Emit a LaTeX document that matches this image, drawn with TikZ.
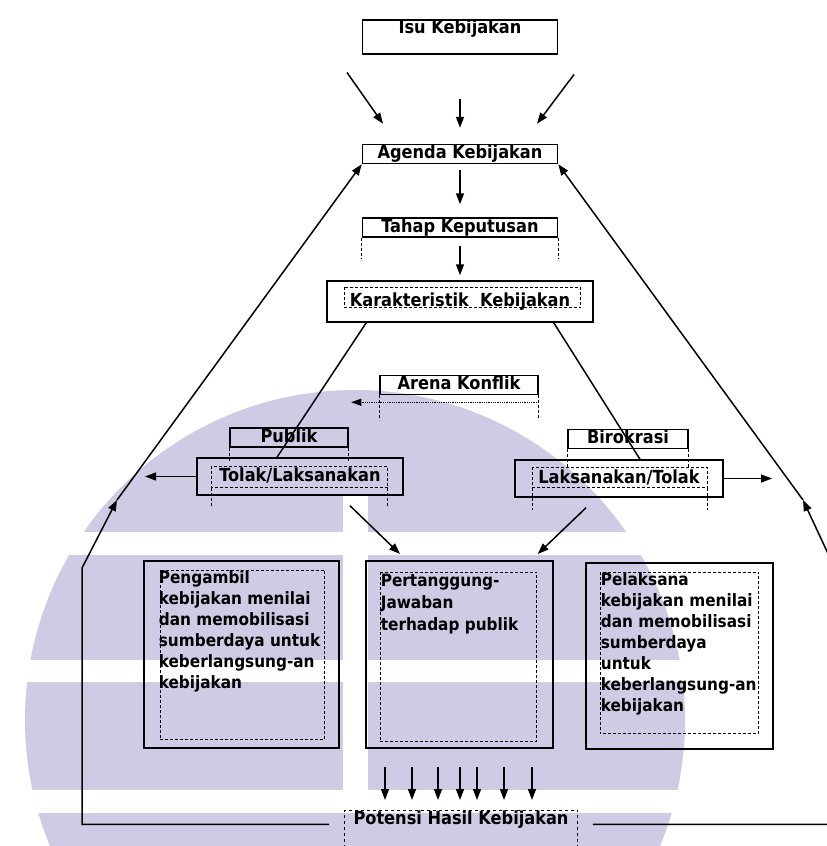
\documentclass[tikz,border=0pt]{standalone}
\usepackage{fontspec}
\setmainfont{DejaVu Sans Condensed}
\usetikzlibrary{arrows.meta}
\definecolor{umn-lavender}{RGB}{205,204,228}
\tikzset{
    label-box/.style = {draw, line width=1.5pt, rectangle, inner sep=1pt, font=\bfseries\fontsize{18}{21}\selectfont, text height=13pt, text depth=4pt},
    big-box/.style = {draw, line width=1.7pt, rectangle, inner xsep=15pt, inner ysep=10pt, anchor=north west, font=\bfseries\fontsize{17}{21}\selectfont},
    frame-line/.style = {line width=0.7pt, densely dashed},
    flow-line/.style = {line width=1.5pt},
    flow-arrow/.style = {line width=1.5pt, -{Triangle[length=11pt,width=8pt]}},
}

\begin{document}
\begin{tikzpicture}[x=1pt,y=-1pt]
\useasboundingbox (0,0) rectangle (827,846);
\clip (0,0) rectangle (827,846);
\fill[white] (0,0) rectangle (827,846);
% watermark behind the chart
\fill[umn-lavender] (355,720) circle[radius=330pt];
\fill[white] (0,532) rectangle (827,555);
\fill[white] (0,660) rectangle (827,682);
\fill[white] (0,790) rectangle (827,813);
\fill[white] (343,495) rectangle (368,790);

% top of the chart
\node[label-box, minimum width=195pt, text depth=19pt, anchor=north] (isu) at (460,19) {Isu Kebijakan};
\node[label-box, minimum width=195pt] (agenda) at (460,154) {Agenda Kebijakan};
\node[label-box, minimum width=195pt] (tahap) at (460,227.5) {Tahap Keputusan};
\draw[frame-line] (tahap.south west) -- ++(0,21) (tahap.south east) -- ++(0,21);
\node[label-box, minimum width=266pt, minimum height=41pt] (karak) at (460,301.5) {Karakteristik\ \ Kebijakan};
\draw[frame-line] ([shift={(18,7)}]karak.north west) rectangle ([shift={(-13,-15)}]karak.south east);

\draw[flow-arrow] ([shift={(-113,18)}]isu.south) -- ([shift={(-77,-20)}]agenda.north);
\draw[flow-arrow] ([shift={(0,44)}]isu.south) -- ([shift={(0,-16)}]agenda.north);
\draw[flow-arrow] ([shift={(114,20)}]isu.south) -- ([shift={(77,-20)}]agenda.north);
\draw[flow-arrow] ([shift={(0,6)}]agenda.south) -- ([shift={(0,-13)}]tahap.north);
\draw[flow-arrow] ([shift={(0,8)}]tahap.south) -- ([shift={(0,-5)}]karak.north);

% arena konflik
\node[label-box, minimum width=158pt] (arena) at (459,385) {Arena Konflik};
\draw[frame-line] (arena.south west) -- ++(0,25) (arena.south east) -- ++(0,25);
\draw[line width=0.8pt, densely dotted, -{Triangle[length=10pt,width=7pt]}] ([shift={(0,7)}]arena.south east) -- ([shift={(-28,7)}]arena.south west);

% publik side
\node[label-box, minimum width=118pt] (publik) at (289,437.5) {Publik};
\draw[frame-line] (publik.south west) -- ++(0,13) (publik.south east) -- ++(0,13);
\node[label-box, minimum width=206pt, minimum height=37pt] (tolak) at (300,476.5) {Tolak/Laksanakan};
\draw[frame-line] ([shift={(15,9)}]tolak.north west) rectangle ([shift={(-16,-8)}]tolak.south east);
\draw[frame-line] ([shift={(15,-8)}]tolak.south west) -- ++(0,20) ([shift={(-16,-8)}]tolak.south east) -- ++(0,20);

% birokrasi side
\node[label-box, minimum width=120pt] (biro) at (628,439) {Birokrasi};
\draw[frame-line] (biro.south west) -- ++(0,20) (biro.south east) -- ++(0,20);
\node[label-box, minimum width=208pt, minimum height=37pt] (laks) at (619,478.5) {Laksanakan/Tolak};
\draw[frame-line] ([shift={(18,8)}]laks.north west) rectangle ([shift={(-16,-10)}]laks.south east);
\draw[frame-line] ([shift={(18,-10)}]laks.south west) -- ++(0,22) ([shift={(-16,-10)}]laks.south east) -- ++(0,22);

\draw[flow-line] ([shift={(40,0)}]karak.south west) -- ([shift={(-23,0)}]tolak.north);
\draw[flow-line] ([shift={(-40,0)}]karak.south east) -- ([shift={(21,0)}]laks.north);
\coordinate (publik-out) at (145,476.5);
\coordinate (biro-out) at (772,478.5);
\draw[flow-arrow] (tolak.west) -- (publik-out);
\draw[flow-arrow] (laks.east) -- (biro-out);

% the three boxes
\node[big-box, minimum width=195pt, minimum height=187pt] (ambil) at (143,560) {\parbox[t][167pt][t]{165pt}{\raggedright Pengambil\\ kebijakan menilai\\ dan memobilisasi\\ sumberdaya untuk\\ keberlangsung-an\\ kebijakan}};
\node[big-box, minimum width=187pt, minimum height=187pt] (mid) at (365,560) {\parbox[t][167pt][t]{157pt}{\raggedright\vspace{3pt}Pertanggung-\\[1pt] Jawaban\\[1pt] terhadap publik}};
\node[big-box, minimum width=187pt, minimum height=186pt] (pelaksana) at (585,562) {\parbox[t][166pt][t]{157pt}{\raggedright Pelaksana\\ kebijakan menilai\\ dan memobilisasi\\ sumberdaya\\ untuk\\ keberlangsung-an\\ kebijakan}};
\draw[frame-line] ([shift={(17,10)}]ambil.north west) rectangle ([shift={(-15,-9)}]ambil.south east);
\draw[frame-line] ([shift={(15,12)}]mid.north west) rectangle ([shift={(-17,-7)}]mid.south east);
\draw[frame-line] ([shift={(15,10)}]pelaksana.north west) rectangle ([shift={(-15,-16)}]pelaksana.south east);

\draw[flow-arrow] ([shift={(50,10)}]tolak.south) -- ([shift={(35,-6)}]mid.north west);
\draw[flow-arrow] ([shift={(-33,10)}]laks.south) -- ([shift={(-16,-6)}]mid.north east);

% outcome and feedback
\node[label-box, dashed, line width=0.8pt, minimum width=233pt, text depth=30pt, anchor=north] (potensi) at (461,810) {Potensi Hasil Kebijakan};
\foreach \dx in {-76,-49,-23,-1,16,43,71}
    \draw[flow-arrow] ([shift={(\dx,-43)}]potensi.north) -- ([shift={(\dx,-10)}]potensi.north);

\coordinate (loop-ml) at (82,568);
\coordinate (loop-kl) at (117,500);
\coordinate (loop-mr) at (838,575);
\coordinate (loop-kr) at (803,500);
\draw[flow-arrow] ([shift={(-15,0)}]potensi.base west) -| (loop-ml) -- (loop-kl);
\draw[flow-arrow] (loop-kl) -- (agenda.south west);
\draw[flow-arrow] ([shift={(15,0)}]potensi.base east) -| (loop-mr) -- (loop-kr);
\draw[flow-arrow] (loop-kr) -- (agenda.south east);
\end{tikzpicture}
\end{document}
